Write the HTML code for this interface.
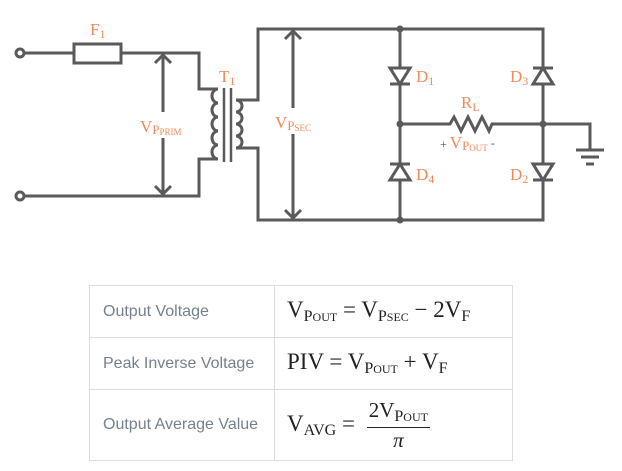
<!DOCTYPE html>
<html><head><meta charset="utf-8"><style>
html,body{margin:0;padding:0;background:#fff;width:622px;height:471px;overflow:hidden}
svg{position:absolute;left:0;top:0}
.t{font-family:"Liberation Serif",serif;fill:#f28a5c}
table{position:absolute;left:89px;top:285px;border-collapse:collapse;width:424px}
td{border:1px solid #ddd;padding:0 0 0 13px;height:51px;font-family:"Liberation Sans",sans-serif;font-size:16px;color:#76808e}
td.m{font-family:"Liberation Serif",serif;font-size:23px;color:#222;padding-left:12px;width:225px;white-space:nowrap}
sub{font-size:16px;vertical-align:-4px}
sub sub{font-size:12px;vertical-align:0px}
.frac{display:inline-block;vertical-align:middle;text-align:center;margin-left:6px;font-size:21px}
.frac span{display:block}
</style></head><body>
<svg width="622" height="280" viewBox="0 0 622 280">
<g fill="none" stroke="#5a5a5a" stroke-width="3">
<circle cx="20" cy="53" r="4" fill="#fff"/>
<circle cx="20" cy="196" r="4" fill="#fff"/>
<path d="M24 53H74M121 53H199V89H218"/>
<rect x="74" y="44" width="47" height="19"/>
<path d="M218 89 a6 7 0 1 0 0 14 a6 7 0 1 0 0 14 a6 7 0 1 0 0 14 a6 7 0 1 0 0 14 a6 7 0 1 0 0 14 H199 V196 H24"/>
<path d="M224 88V162M231 88V162" stroke-width="2.5"/>
<path d="M258 100H236 a6 6 0 1 1 0 12 a6 6 0 1 1 0 12 a6 6 0 1 1 0 12 a6 6 0 1 1 0 12 H258 V220 H543 V29 H258 Z"/>
<path d="M163 55V194M155 63L163 55L171 63M155 186L163 194L171 186"/>
<path d="M293 31V218M285 39L293 31L301 39M285 210L293 218L301 210"/>
<path d="M400 29V220"/>
<path d="M400 124H450l4 -7 7 14 7 -14 7 14 7 -14 7 14 3 -7H543H590V150"/>
<path d="M576 150H604M581 157H599M586 164H594"/>
</g>
<rect x="138" y="112" width="48" height="26" fill="#fff"/>
<rect x="273" y="108" width="42" height="26" fill="#fff"/>
<g fill="#fff" stroke="#5a5a5a" stroke-width="3">
<path d="M390 68H410L400 84Z"/><path d="M390 84H410"/>
<path d="M390 180H410L400 164Z"/><path d="M390 164H410"/>
<path d="M533 84H553L543 68Z"/><path d="M533 68H553"/>
<path d="M533 164H553L543 180Z"/><path d="M533 180H553"/>
</g>
<g fill="#5a5a5a"><circle cx="400" cy="29" r="3.5"/><circle cx="400" cy="124" r="3.5"/><circle cx="543" cy="124" r="3.5"/><circle cx="400" cy="220" r="3.5"/></g>
<text class="t" x="90" y="35" font-size="17">F<tspan font-size="12" dy="3">1</tspan></text>
<text class="t" x="219" y="82" font-size="17">T<tspan font-size="12" dy="3">1</tspan></text>
<text class="t" x="140" y="132" font-size="17">V<tspan font-size="13" dy="2">P</tspan><tspan font-size="9" dy="1">PRIM</tspan></text>
<text class="t" x="275" y="128" font-size="17">V<tspan font-size="13" dy="2">P</tspan><tspan font-size="9" dy="1">SEC</tspan></text>
<text class="t" x="416" y="82" font-size="17">D<tspan font-size="12" dy="3">1</tspan></text>
<text class="t" x="510" y="82" font-size="17">D<tspan font-size="12" dy="3">3</tspan></text>
<text class="t" x="416" y="180" font-size="17">D<tspan font-size="12" dy="3">4</tspan></text>
<text class="t" x="510" y="180" font-size="17">D<tspan font-size="12" dy="3">2</tspan></text>
<text class="t" x="461" y="108" font-size="17">R<tspan font-size="12" dy="3">L</tspan></text>
<text class="t" x="440" y="148" font-size="17"><tspan font-size="12" fill="#555">+ </tspan>V<tspan font-size="13" dy="2">P</tspan><tspan font-size="9" dy="1">OUT</tspan><tspan font-size="12" fill="#555" dy="-4"> -</tspan></text>
</svg>
<table>
<tr><td>Output Voltage</td><td class="m">V<sub>P<sub>OUT</sub></sub> = V<sub>P<sub>SEC</sub></sub> − 2V<sub>F</sub></td></tr>
<tr><td>Peak Inverse Voltage</td><td class="m">PIV = V<sub>P<sub>OUT</sub></sub> + V<sub>F</sub></td></tr>
<tr><td style="height:70px">Output Average Value</td><td class="m">V<sub>AVG</sub> = <span class="frac"><span style="border-bottom:1px solid #222;padding:0 2px 1px">2V<sub>P<sub>OUT</sub></sub></span><span style="font-style:italic">π</span></span></td></tr>
</table>
</body></html>
